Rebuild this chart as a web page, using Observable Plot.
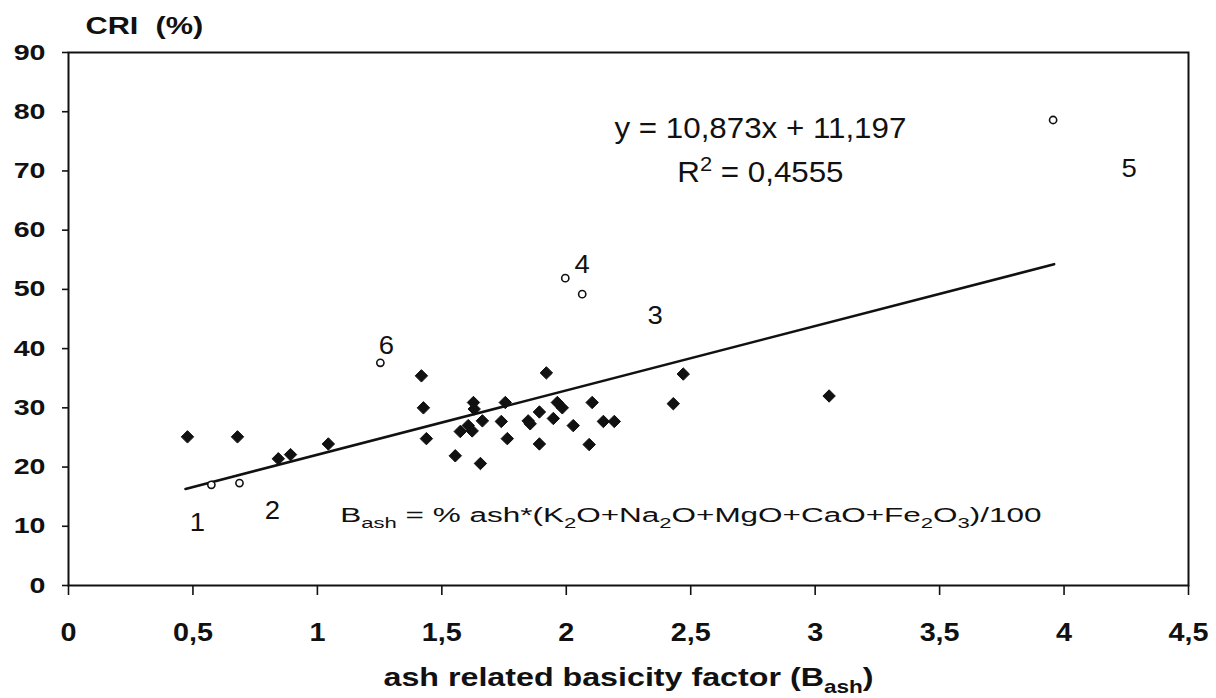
<!DOCTYPE html>
<html>
<head>
<meta charset="utf-8">
<script src="https://cdn.jsdelivr.net/npm/d3@7"></script>
<script src="https://cdn.jsdelivr.net/npm/@observablehq/plot@0.6"></script>
<style>
  body { margin: 0; background: #fff; }
  svg text { white-space: pre; }
</style>
</head>
<body>
<div id="chart"></div>
<script>
// ---- data ----
const xTicks = [0, 0.5, 1, 1.5, 2, 2.5, 3, 3.5, 4, 4.5];
const yTicks = [0, 10, 20, 30, 40, 50, 60, 70, 80, 90];

// filled markers (coals used in the regression)
const filledX = [0.478, 0.679, 0.843, 0.892, 1.044, 1.418, 1.426, 1.438, 1.554, 1.574,
                 1.606, 1.622, 1.627, 1.630, 1.655, 1.663, 1.739, 1.755, 1.763, 1.847,
                 1.855, 1.892, 1.892, 1.920, 1.948, 1.964, 1.984, 2.028, 2.092, 2.104,
                 2.149, 2.193, 2.430, 2.470, 3.056];
const filledY = [25.1, 25.1, 21.4, 22.1, 23.9, 35.4, 30.0, 24.8, 21.9, 26.0,
                 27.0, 26.1, 30.9, 29.8, 20.6, 27.8, 27.7, 30.9, 24.8, 27.8,
                 27.3, 29.3, 23.9, 35.9, 28.2, 30.9, 30.0, 27.0, 23.8, 30.9,
                 27.7, 27.7, 30.7, 35.7, 32.0];

// open markers (numbered samples)
const openX = [0.574, 0.687, 1.253, 1.996, 2.064, 3.956];
const openY = [17.0, 17.3, 37.6, 51.9, 49.2, 78.6];

// sample number labels
const sampleLabels = ["1", "2", "3", "4", "5", "6"];
const labelX = [0.518, 0.819, 2.357, 2.064, 4.261, 1.277];
const labelY = [10.6, 12.6, 45.5, 54.2, 70.3, 40.5];

// regression line
const fitSlope = 10.873;
const fitIntercept = 11.197;
const fitRange = [0.47, 3.96];

// annotation texts
const equationText = ["y = 10,873x + 11,197", "R^{2} = 0,4555"];
const equationX = [2.78, 2.78];
const equationY = [77.1, 69.7];
const formulaText = "B_{ash} = % ash*(K_{2}O+Na_{2}O+MgO+CaO+Fe_{2}O_{3})/100";
const formulaX = 1.092;
const formulaY = 11.8;
const yTitle = "CRI  (%)";
const xTitle = "ash related basicity factor (B_{ash})";

// ---- build tables ----
const filled = filledX.map((x, i) => ({x, y: filledY[i]}));
const open = openX.map((x, i) => ({x, y: openY[i]}));
const labels = sampleLabels.map((t, i) => ({t, x: labelX[i], y: labelY[i]}));
const fit = fitRange.map(x => ({x, y: fitSlope * x + fitIntercept}));
const eqs = equationText.map((t, i) => ({t, x: equationX[i], y: equationY[i]}));
const commaFmt = d => String(d).replace(".", ",");
const FONT = "'Liberation Sans', Arial, Helvetica, sans-serif";

const chart = Plot.plot({
  width: 1216,
  height: 698,
  marginLeft: 68,
  marginRight: 28,
  marginTop: 52,
  marginBottom: 113,
  style: {fontFamily: FONT, color: "#111", background: "#fff"},
  x: {domain: [0, 4.5]},
  y: {domain: [0, 90]},
  marks: [
    Plot.axisY({ticks: yTicks, tickSize: 6, tickPadding: 17, fontSize: 22, fontWeight: "bold",
                label: null, strokeWidth: 1.6, tickFormat: commaFmt}),
    Plot.axisX({ticks: xTicks, tickSize: 10, tickPadding: 28, fontSize: 25, fontWeight: "bold",
                label: null, strokeWidth: 1.6, tickFormat: commaFmt}),
    Plot.frame({stroke: "#111", strokeWidth: 2}),
    Plot.line(fit, {x: "x", y: "y", stroke: "#111", strokeWidth: 2.6}),
    Plot.dot(filled, {x: "x", y: "y", symbol: "diamond2", r: 5.6, fill: "#111", stroke: "#111", strokeWidth: 1}),
    Plot.dot(open, {x: "x", y: "y", symbol: "circle", r: 3.6, fill: "#fff", stroke: "#111", strokeWidth: 1.6}),
    Plot.text(labels, {x: "x", y: "y", text: "t", fontSize: 25, fill: "#111", ariaDescription: "sample-labels"}),
    Plot.text(eqs, {x: "x", y: "y", text: "t", fontSize: 29, fill: "#111", ariaDescription: "equation"}),
    Plot.text([formulaText], {x: () => formulaX, y: () => formulaY, text: d => d, textAnchor: "start",
                              fontSize: 21, fill: "#111", ariaDescription: "formula"}),
    Plot.text([yTitle], {frameAnchor: "top-left", dx: 17, dy: -26, text: d => d, textAnchor: "start",
                         lineAnchor: "middle", fontSize: 24, fontWeight: "bold", fill: "#111", ariaDescription: "y-title"}),
    Plot.text([xTitle], {frameAnchor: "bottom", dy: 92, text: d => d, textAnchor: "middle",
                         lineAnchor: "middle", fontSize: 26, fontWeight: "bold", fill: "#111", ariaDescription: "x-title"})
  ]
});

document.getElementById("chart").appendChild(chart);

// ---- post-processing: sub/superscripts and horizontal glyph stretch of the scan ----
const SVGNS = "http://www.w3.org/2000/svg";
function richify(el) {
  const s = el.textContent;
  if (!/[_^]\{/.test(s)) return;
  while (el.firstChild) el.removeChild(el.firstChild);
  const re = /([_^])\{([^}]*)\}/g;
  let last = 0, m, pending = 0;
  const plain = (txt) => {
    if (!txt) return;
    const t = document.createElementNS(SVGNS, "tspan");
    t.textContent = txt;
    if (pending) { t.setAttribute("dy", (-pending) + "em"); pending = 0; }
    el.appendChild(t);
  };
  while ((m = re.exec(s))) {
    plain(s.slice(last, m.index));
    const t = document.createElementNS(SVGNS, "tspan");
    t.textContent = m[2];
    t.setAttribute("font-size", "70%");
    const shift = m[1] === "_" ? 0.28 : -0.38; // in parent em
    t.setAttribute("dy", ((shift - pending) / 0.7) + "em");
    pending = shift;
    el.appendChild(t);
    last = re.lastIndex;
  }
  const rest = s.slice(last);
  if (rest) plain(rest);
}
function stretch(selector, sx) {
  d3.select(chart).selectAll(selector).each(function () {
    const xa = this.getAttribute("x");
    let x = 0;
    if (xa != null && !isNaN(+xa)) { x = +xa; this.removeAttribute("x"); }
    const t = this.getAttribute("transform") || "";
    this.setAttribute("transform", `${t} translate(${x},0) scale(${sx},1)`);
  });
}
d3.select(chart).selectAll("text").each(function () { richify(this); });
stretch('g[aria-label="y-axis tick label"] text', 1.3);
stretch('g[aria-label="x-axis tick label"] text', 1.15);
stretch('g[aria-description="sample-labels"] text', 1.1);
stretch('g[aria-description="equation"] text', 1.08);
stretch('g[aria-description="formula"] text', 1.5);
stretch('g[aria-description="y-title"] text', 1.28);
stretch('g[aria-description="x-title"] text', 1.24);
</script>
</body>
</html>
